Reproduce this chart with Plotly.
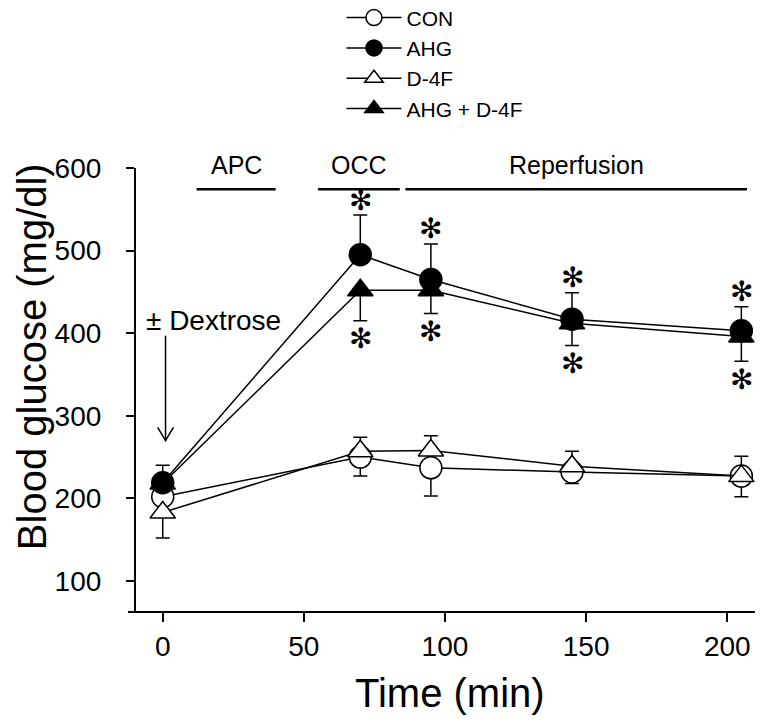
import plotly.graph_objects as go

# ---- data ----
time_min = [0, 70, 95, 145, 205]

con = [202, 250, 237, 232, 227]
con_err = [50, 23, 34, 14, 25]          # drawn downward

ahg = [219, 495, 465, 417, 403]
ahg_err = [21, 48, 43, 32, 29]          # drawn upward

d4f = [183, 257, 258, 239, 227]
d4f_err = [0, 17, 18, 18, 24]           # drawn upward

ahg_d4f = [218, 452, 452, 412, 396]
ahg_d4f_err = [0, 37, 28, 27, 30]       # drawn downward

sig_ahg = [False, True, True, True, True]        # asterisk above AHG
sig_ahg_d4f = [False, True, True, True, True]    # asterisk below AHG + D-4F

phase_names = ["APC", "OCC", "Reperfusion"]
phase_start = [12, 55, 86]
phase_end = [40, 84, 207]

x_ticks = [0, 50, 100, 150, 200]
y_ticks = [100, 200, 300, 400, 500, 600]

FONT = "Liberation Sans, Arial, sans-serif"
BLACK = "black"

fig = go.Figure()


def add_series(name, y, err, up, symbol, fill, size):
    zeros = [0] * len(err)
    fig.add_trace(go.Scatter(
        x=time_min, y=y, name=name, mode="lines+markers",
        line=dict(color=BLACK, width=1.5),
        marker=dict(symbol=symbol, size=size, color=fill,
                    line=dict(color=BLACK, width=1.5)),
        error_y=dict(type="data", symmetric=False,
                     array=err if up else zeros,
                     arrayminus=zeros if up else err,
                     color=BLACK, thickness=1.5, width=7),
    ))


add_series("CON", con, con_err, False, "circle", "white", 22)
add_series("AHG", ahg, ahg_err, True, "circle", BLACK, 22)
add_series("D-4F", d4f, d4f_err, True, "triangle-up", "white", 22)
add_series("AHG + D-4F", ahg_d4f, ahg_d4f_err, False, "triangle-up", BLACK, 22)

annotations = []
STAR_FONT = dict(family="DejaVu Sans", size=28, color=BLACK)
# significance asterisks
for t, v, e, s in zip(time_min, ahg, ahg_err, sig_ahg):
    if s:
        annotations.append(dict(x=t, y=v + e, xref="x", yref="y", text="✻",
                                showarrow=False, yanchor="middle", yshift=15,
                                font=STAR_FONT))
for t, v, e, s in zip(time_min, ahg_d4f, ahg_d4f_err, sig_ahg_d4f):
    if s:
        annotations.append(dict(x=t, y=v - e, xref="x", yref="y", text="✻",
                                showarrow=False, yanchor="middle", yshift=-18,
                                font=STAR_FONT))

shapes = []
# experimental phase bars and labels
for n, a, b in zip(phase_names, phase_start, phase_end):
    shapes.append(dict(type="line", xref="x", yref="paper", x0=a, x1=b,
                       y0=0.952, y1=0.952, line=dict(color=BLACK, width=2.5)))
    annotations.append(dict(x=(a + b) / 2, y=1.007, xref="x", yref="paper",
                            text=n, showarrow=False, yanchor="middle",
                            font=dict(family=FONT, size=25, color=BLACK)))

# ± Dextrose arrow
shapes.append(dict(type="line", xref="x", yref="y", x0=1, x1=1, y0=397, y1=270,
                   line=dict(color=BLACK, width=1.5)))
shapes.append(dict(type="path", xref="x", yref="y",
                   path="M -1.8,286 L 1,270 L 3.8,286",
                   line=dict(color=BLACK, width=1.5)))
annotations.append(dict(x=-6.6, y=415, xref="x", yref="y", text="± Dextrose",
                        showarrow=False, xanchor="left", yanchor="middle",
                        font=dict(family=FONT, size=28, color=BLACK)))

# axis titles
annotations.append(dict(x=0.5, y=-0.184, xref="paper", yref="paper",
                        text="Time (min)", showarrow=False, yanchor="middle",
                        font=dict(family=FONT, size=40, color=BLACK)))
annotations.append(dict(x=-0.1493, y=0.573, xref="paper", yref="paper",
                        text="Blood glucose (mg/dl)", showarrow=False,
                        textangle=-90, xanchor="center", yanchor="middle",
                        font=dict(family=FONT, size=40, color=BLACK)))

fig.update_layout(
    width=763, height=721,
    margin=dict(l=120, r=0, t=160, b=118, autoexpand=False),
    paper_bgcolor="white", plot_bgcolor="white",
    font=dict(family=FONT, color=BLACK),
    showlegend=True,
    legend=dict(x=0.332, y=1.385, xanchor="left", yanchor="top",
                font=dict(family=FONT, size=21, color=BLACK),
                bgcolor="rgba(0,0,0,0)", borderwidth=0, itemwidth=55,
                tracegroupgap=0),
    xaxis=dict(range=[-12.3, 215.5], tickvals=x_ticks, ticks="outside",
               ticklen=9, tickwidth=1.5, tickcolor=BLACK,
               showline=True, linecolor=BLACK, linewidth=1.5,
               showgrid=False, zeroline=False, ticklabelstandoff=1,
               tickfont=dict(family=FONT, size=28, color=BLACK)),
    yaxis=dict(range=[63.7, 600], tickvals=y_ticks, ticks="outside",
               ticklen=8, tickwidth=1.5, tickcolor=BLACK,
               anchor="free", position=0.0104,
               showline=True, linecolor=BLACK, linewidth=1.5,
               showgrid=False, zeroline=False, ticklabelstandoff=19,
               tickfont=dict(family=FONT, size=28, color=BLACK)),
    shapes=shapes,
    annotations=annotations,
)

fig.write_html("out.html")
